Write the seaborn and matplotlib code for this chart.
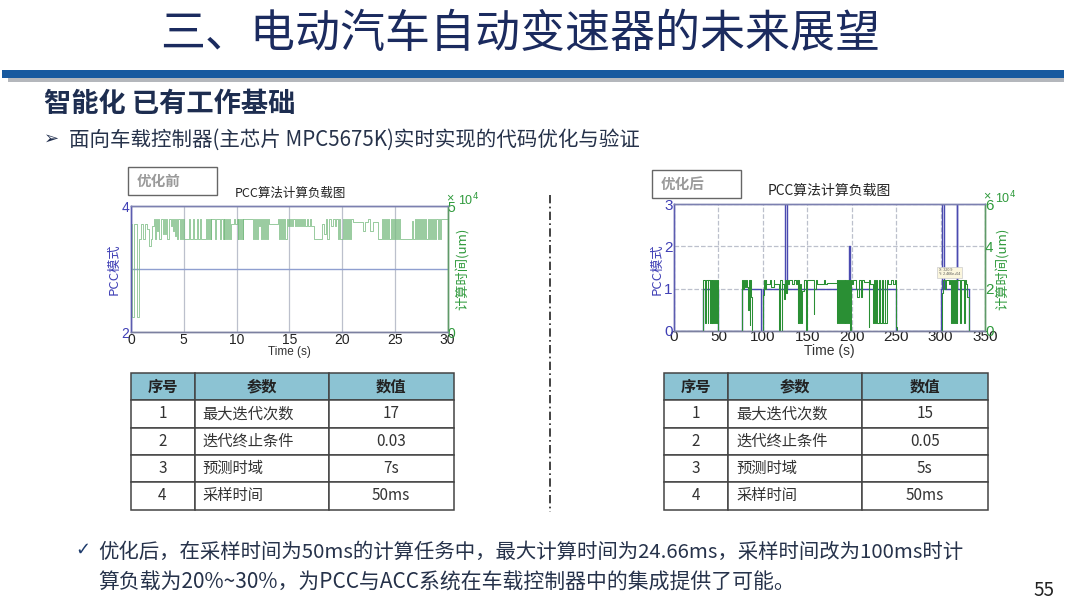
import matplotlib
matplotlib.use("Agg")
import matplotlib.pyplot as plt
import seaborn as sns
from matplotlib.patches import Rectangle

sns.set_theme(style="white")
CJK = ['Noto Sans CJK SC', 'DejaVu Sans']
plt.rcParams['font.family'] = CJK
plt.rcParams['axes.unicode_minus'] = False

# ---------- text ----------
title = "三、电动汽车自动变速器的未来展望"
heading = "智能化 已有工作基础"
bullet = "面向车载控制器(主芯片 MPC5675K)实时实现的代码优化与验证"
note1 = "优化后，在采样时间为50ms的计算任务中，最大计算时间为24.66ms，采样时间改为100ms时计"
note2 = "算负载为20%~30%，为PCC与ACC系统在车载控制器中的集成提供了可能。"
page = "55"
chart_title = "PCC算法计算负载图"

# ---------- tables ----------
table_head = ["序号", "参数", "数值"]
table_idx = ["1", "2", "3", "4"]
table_params = ["最大迭代次数", "迭代终止条件", "预测时域", "采样时间"]
before_vals = ["17", "0.03", "7s", "50ms"]
after_vals = ["15", "0.05", "5s", "50ms"]

# ---------- left chart (before) ----------
before_mode_t = [0, 30]
before_mode_v = [3, 3]
before_load_t = [
    0, .12, .28, .55, .72, .95, 1.1, 1.3, 1.5, 1.75,
    1.9, 2.0, 2.15, 2.3, 2.4, 2.5, 2.6, 2.7, 2.85, 3.0,
    3.1, 3.2, 3.3, 3.45, 3.6, 3.75, 3.85, 3.95, 4.1, 4.2,
    4.3, 4.4, 4.5, 4.6, 4.7, 4.8, 4.9, 5.0, 5.5, 5.6,
    5.9, 6.0, 6.25, 6.35, 6.55, 6.65, 7.15, 7.22, 7.3, 7.38,
    7.45, 7.55, 7.6, 8.0, 8.1, 8.45, 8.55, 8.7, 8.78, 8.86,
    8.94, 9.02, 9.1, 9.18, 9.26, 9.34, 9.5, 9.75, 9.9, 10.0,
    10.1, 10.18, 10.26, 10.34, 10.42, 10.5, 10.58, 10.66, 11.55, 11.7,
    11.8, 11.88, 11.96, 12.04, 12.12, 12.2, 12.3, 12.4, 12.5, 12.6,
    12.7, 12.8, 12.9, 13.0, 13.1, 13.9, 14.0, 14.1, 14.2, 14.3,
    14.4, 14.5, 14.6, 14.8, 14.9, 15.0, 15.1, 15.2, 15.3, 15.4,
    15.5, 15.6, 15.7, 15.8, 15.9, 16.0, 16.1, 16.2, 16.3, 16.4,
    16.5, 16.7, 16.8, 17.0, 17.1, 17.3, 18.15, 18.3, 18.45, 18.6,
    18.8, 19.0, 19.1, 19.3, 19.4, 19.6, 19.75, 19.85, 20.05, 20.2,
    20.3, 20.4, 20.5, 20.6, 20.7, 20.8, 20.9, 21.0, 22.0, 22.15,
    22.5, 22.65, 22.9, 23.4, 23.75, 23.85, 23.95, 24.05, 24.15, 24.25,
    24.35, 24.45, 24.6, 24.7, 24.8, 24.9, 25.0, 25.1, 25.2, 25.3,
    25.4, 25.5, 26.6, 26.75, 26.9, 27.0, 27.1, 27.2, 27.3, 27.4,
    27.5, 27.6, 27.7, 27.8, 27.9, 28.0, 28.15, 28.25, 28.35, 28.45,
    28.55, 28.65, 28.75, 28.85, 28.95, 29.1, 29.2, 29.3, 29.4, 30,
]
before_load_v = [
    4.3, .6, 4.3, .6, 3.7, 4.3, 3.7, 4.3, 4.1, 3.4,
    3.7, 4.2, 4.5, 3.7, 4.5, 4.0, 4.5, 3.7, 4.5, 3.9,
    4.5, 3.9, 4.5, 3.7, 4.5, 4.2, 4.5, 4.0, 4.5, 3.8,
    4.5, 3.7, 4.5, 3.7, 4.5, 3.7, 4.5, 3.7, 4.5, 3.7,
    4.5, 3.7, 4.5, 3.7, 4.5, 3.7, 4.5, 3.7, 4.5, 3.7,
    4.5, 3.7, 4.5, 3.7, 4.5, 3.7, 4.5, 3.7, 4.5, 3.7,
    4.5, 3.7, 4.5, 3.7, 4.5, 3.7, 4.3, 4.5, 4.3, 4.5,
    3.7, 4.5, 3.7, 4.5, 3.7, 4.5, 3.7, 4.5, 3.7, 4.5,
    3.7, 4.5, 3.7, 4.5, 4.2, 4.5, 3.7, 4.5, 3.7, 4.5,
    3.7, 4.5, 3.7, 4.5, 4.3, 4.5, 3.7, 4.5, 3.7, 4.5,
    3.7, 4.5, 3.7, 4.5, 4.2, 4.5, 4.2, 4.5, 4.2, 4.5,
    4.2, 4.5, 4.2, 4.5, 4.2, 4.5, 4.2, 4.5, 4.2, 4.5,
    4.2, 4.5, 4.2, 4.5, 4.2, 3.7, 4.3, 3.9, 4.5, 3.7,
    4.5, 4.2, 4.5, 4.2, 4.5, 3.7, 4.5, 3.7, 4.5, 3.7,
    4.5, 3.7, 4.5, 3.7, 4.5, 3.7, 4.5, 4.35, 4.0, 4.35,
    4.5, 4.0, 4.35, 3.7, 4.5, 3.7, 4.5, 3.7, 4.5, 3.7,
    4.5, 3.7, 4.5, 3.7, 4.5, 3.7, 4.5, 3.7, 4.5, 3.7,
    4.5, 3.7, 4.4, 3.7, 4.5, 3.7, 4.5, 3.7, 4.5, 3.7,
    4.5, 3.7, 4.5, 3.7, 4.5, 3.7, 4.5, 3.7, 4.5, 3.7,
    4.5, 3.7, 4.5, 3.7, 4.5, 3.7, 4.5, 3.7, 4.5, 3.7,
]

# ---------- right chart (after) ----------
after_mode_t = [0, 33, 49, 76, 98, 100, 125, 127, 197, 198, 250, 300, 302, 304, 318, 319, 332, 350]
after_mode_v = [0, 1, 0, 1, 0, 1, 3, 1, 2, 1, 0, 1, 3, 1, 3, 1, 0, 0]
after_load_t = [
    0, 33, 35, 36, 38, 38.8, 40, 40.8, 41.6, 42.4,
    43.2, 44, 45.5, 46.5, 47.5, 48.5, 49, 76, 77, 78,
    79, 80, 81, 82, 83, 84, 85, 86, 87, 88,
    100, 101, 102, 103, 104, 108, 109, 112, 113, 118,
    119, 121, 122, 124, 125, 126, 127, 128, 129, 133,
    135, 137, 138, 139, 140, 141, 142, 143, 144, 146,
    148, 149, 150, 157, 158, 160, 161, 169, 170, 172,
    179, 183, 184, 185, 186, 187, 188, 189, 190, 191,
    192, 193, 194, 195, 196, 197, 198, 199, 200, 201,
    205, 206, 208, 211, 212, 214, 219, 220, 221, 224,
    225, 226, 227, 229, 231, 232, 234, 235, 237, 238,
    240, 241, 244, 246, 249, 250, 250.5, 302, 303, 305,
    306, 310, 311, 312, 313, 314, 315, 316, 317, 318,
    319, 322, 323, 326, 327, 329, 330, 332, 350,
]
after_load_v = [
    0, 2.4, .4, 2.4, .4, 2.4, .4, 2.4, .4, 2.4,
    .4, 2.4, .4, 2.4, .4, 2.4, 0, 1.7, 2.4, 2.0,
    2.4, 2.1, 2.4, 2.1, 1.0, 2.4, 0.3, 2.4, 1.6, 0,
    1.7, 2.4, 2.0, 2.4, 2.2, 2.4, 2.1, 2.4, 2.2, 0,
    2.4, 0, 2.2, 1.5, 2.4, 1.8, 2.4, 2.2, 2.4, 2.2,
    2.4, 2.2, 2.4, 0.4, 2.4, 0.4, 2.2, 0.4, 1.9, 2.4,
    1.0, 0, 2.4, 0.8, 2.0, 2.4, 2.2, 2.4, 2.2, 2.25,
    2.25, 2.4, 0.4, 2.4, 0.4, 2.4, 0.4, 2.4, 0.4, 2.4,
    0.4, 2.4, 0.4, 2.4, 0.4, 2.4, 0, 2.4, 2.2, 2.4,
    2.0, 1.6, 2.4, 1.6, 2.4, 2.3, 0.2, 2.4, 2.2, 0.4,
    2.4, 0.4, 2.4, 0.4, 2.4, 0.4, 2.4, 0.4, 2.4, 0.4,
    2.4, 2.2, 2.4, 2.2, 2.4, 0.2, 0, 1.8, 2.4, 2.0,
    2.4, 2.2, 2.4, 0.4, 2.4, 0.4, 2.4, 0.4, 2.4, 0.4,
    2.4, 0.4, 2.4, 0.4, 2.4, 2.2, 1.6, 0, 0,
]

W, H = 1080, 608
fig = plt.figure(figsize=(W / 100, H / 100), dpi=100, facecolor="white")


def px_axes(x0, y0, x1, y1, **kw):
    return fig.add_axes([x0 / W, 1 - y1 / H, (x1 - x0) / W, (y1 - y0) / H], **kw)


# ---------- page overlay ----------
bg = px_axes(0, 0, W, H)
bg.set_xlim(0, W)
bg.set_ylim(H, 0)
bg.axis("off")
bg.add_patch(Rectangle((8, 77), 1056, 4.5, color="#b4b7bc", lw=0))
bg.add_patch(Rectangle((2, 70), 1062, 7.5, color="#17599f", lw=0))
bg.text(520, 34, title, fontsize=32.4, color="#1b2b5f", ha="center", va="center")
bg.text(44, 103.5, heading, fontsize=19.6, fontweight="bold", color="#1d2d50", va="center")
bg.text(44, 139, "➢", fontsize=13, color="#22304f", va="center", family="DejaVu Sans")
bg.text(69, 139.5, bullet, fontsize=14.75, color="#26324a", va="center")
bg.text(75, 550, "✓", fontsize=13, color="#1d3a6b", va="center", family="DejaVu Sans")
bg.text(98, 552, note1, fontsize=14.7, color="#26324a", va="center")
bg.text(98, 583, note2, fontsize=15, color="#26324a", va="center")
bg.text(1044, 590, page, fontsize=13.5, color="#222222", ha="center", va="center")
bg.plot([550, 550], [195, 512], color="#222222", lw=1.2, ls=(0, (5, 2, 1, 2)))
for (bx, by, lab) in [(128, 167, "优化前"), (652, 170, "优化后")]:
    bg.add_patch(Rectangle((bx, by), 89, 28, fc="white", ec="#666666", lw=1))
    bg.text(bx + 9, by + 14, lab, fontsize=10.5, fontweight="bold", color="#9a9a9a", va="center")


# ---------- charts ----------
def chart(box, mode_t, mode_v, load_t, load_v, xticks, yl, yticks, yr, rticks, grid_ls,
          mode_color, load_color, lw, tick_fs, x_pad, title_fs, title_x, title_y, time_fs, time_y, rlabel_x):
    ax = px_axes(*box)
    sns.lineplot(x=mode_t, y=mode_v, ax=ax, color=mode_color, lw=1.0, drawstyle="steps-post",
                 estimator=None, errorbar=None)
    ax.set_xlim(xticks[0], xticks[-1])
    ax.set_ylim(*yl)
    ax.set_xticks(xticks)
    ax.set_yticks(yticks)
    ax.grid(True, color="#bcc0cc", lw=0.9, ls=grid_ls)
    ax.tick_params(axis="x", labelsize=tick_fs, pad=x_pad, length=0, colors="#222222")
    ax.tick_params(axis="y", labelsize=tick_fs, pad=1, length=0, colors="#3f3fb5")
    for lab in ax.get_xticklabels() + ax.get_yticklabels():
        lab.set_family("Liberation Sans")
    tw = ax.twinx()
    sns.lineplot(x=load_t, y=load_v, ax=tw, color=load_color, lw=lw, drawstyle="steps-post",
                 estimator=None, errorbar=None)
    tw.set_ylim(*yr)
    tw.set_yticks(rticks)
    tw.grid(False)
    tw.tick_params(axis="y", labelsize=tick_fs, pad=0, length=0, colors="#2f9a3c")
    for lab in tw.get_yticklabels():
        lab.set_family("Liberation Sans")
    for a in (ax, tw):
        a.spines["top"].set_color("#7c80b0")
        a.spines["bottom"].set_color("#7c80a0")
        a.spines["left"].set_color("#5c5cb0")
        a.spines["right"].set_color("#5f9a68")
        for s in a.spines.values():
            s.set_linewidth(1)
    x0, y0, x1, y1 = box
    bg.text(title_x, title_y, chart_title, fontsize=title_fs, color="#222222", ha="center", va="center")
    bg.text((x0 + x1) / 2, time_y, "Time (s)", fontsize=time_fs, color="#333333",
            ha="center", va="center", family="Liberation Sans")
    bg.text(x0 - 17, 269, "PCC模式", fontsize=9.5, color="#3f3fb5", rotation=90,
            ha="center", va="center")
    bg.text(rlabel_x, 269, "计算时间(um)", fontsize=9.5, color="#2f9a3c", rotation=90,
            ha="center", va="center")
    bg.text(x1 + 2, y0 - 8, "×", fontsize=9, color="#2f9a3c", va="center", ha="center",
            family="Liberation Sans")
    bg.text(x1 + 10, y0 - 6, "10$^4$", fontsize=9, color="#2f9a3c", va="center",
            family="Liberation Sans")
    return ax


chart((131, 206, 447.5, 332), before_mode_t, before_mode_v, before_load_t, before_load_v,
      [0, 5, 10, 15, 20, 25, 30], (2, 4), [2, 4], (0, 5), [0, 5], "-", "#8f9fd0", "#7dbd85",
      0.55, 10, 0.5, 9, 290, 193, 8.5, 352.5, 463)
chart((674, 204, 985, 331), after_mode_t, after_mode_v, after_load_t, after_load_v,
      [0, 50, 100, 150, 200, 250, 300, 350], (0, 3), [0, 1, 2, 3], (0, 6), [0, 2, 4, 6], "--",
      "#4a4ab0", "#2a8f34", 0.75, 11, -0.5, 10, 829, 191, 10, 351, 1003)

# small data tip in right chart
bg.add_patch(Rectangle((937, 267), 25, 10.5, fc="#fbf6dd", ec="#cccccc", lw=0.5, zorder=20))
bg.set_zorder(10)
bg.patch.set_alpha(0)
bg.text(939, 272, "X: 320.9\nY: 2.466e+04", fontsize=2.6, color="#555555", va="center", zorder=21,
        family="Liberation Sans")


# ---------- tables ----------
def param_table(x0, values):
    ax = px_axes(x0, 373, x0 + 323.5, 509.5)
    ax.set_zorder(11)
    ax.axis("off")
    rows = [[a, b, c] for a, b, c in zip(table_idx, table_params, values)]
    t = ax.table(cellText=[table_head] + rows, colWidths=[64 / 323.5, 134 / 323.5, 125.5 / 323.5],
                 bbox=[0, 0, 1, 1], cellLoc="center")
    t.auto_set_font_size(False)
    for (r, c), cell in t.get_celld().items():
        cell.set_edgecolor("#444444")
        cell.set_linewidth(1.1)
        cell.set_text_props(fontsize=11, color="#333333")
        if r == 0:
            cell.set_facecolor("#8cc3d3")
            cell.set_text_props(fontweight="bold", fontsize=11, color="#222222")
        elif c == 1:
            cell.set_text_props(ha="left")
            cell.PAD = 0.06


param_table(130.5, before_vals)
param_table(664, after_vals)

fig.savefig("out.png", dpi=100, facecolor="white")
